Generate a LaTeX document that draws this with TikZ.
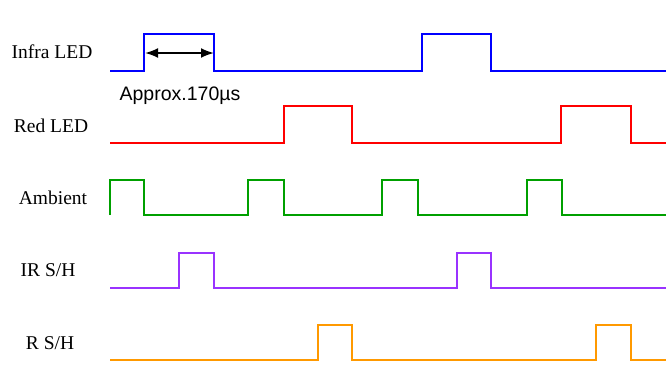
\documentclass[tikz,border=0pt]{standalone}
\usepackage{fontspec}
\setmainfont{Liberation Serif}
\newfontfamily\approxfont{Liberation Sans}
\usepackage{tikz}
\usetikzlibrary{arrows,arrows.meta,positioning,calc}
\definecolor{irblue}{RGB}{0,0,255}
\definecolor{ledred}{RGB}{255,0,0}
\definecolor{ambgreen}{RGB}{0,160,0}
\definecolor{shpurple}{RGB}{153,51,255}
\definecolor{shorange}{RGB}{255,153,0}

\tikzset{
  wave/.style={line width=2.2pt},
  siglabel/.style={font=\fontsize{19.5}{19.5}\selectfont, anchor=center}
}

\begin{document}
\begin{tikzpicture}[x=1pt, y=-1pt]
  \useasboundingbox (0,0) rectangle (666,365);
  % signal names
  \node[siglabel] (infra) at (52,52) {Infra LED};
  \node[siglabel] (red) at (51,126) {Red LED};
  \node[siglabel] (amb) at (53,198) {Ambient};
  \node[siglabel] (irsh) at (48,270) {IR S/H};
  \node[siglabel] (rsh) at (50,343) {R S/H};
  % waveforms
  \draw[wave, irblue] (110,71) -- (144,71) -- (144,34) -- (214,34) -- (214,71) -- (422,71) -- (422,34) -- (491,34) -- (491,71) -- (666,71);
  \draw[wave, ledred] (110,143) -- (284,143) -- (284,106) -- (352,106) -- (352,143) -- (561,143) -- (561,106) -- (631,106) -- (631,143) -- (666,143);
  \draw[wave, ambgreen] (110,215) -- (110,180) -- (144,180) -- (144,215) -- (248,215) -- (248,180) -- (284,180) -- (284,215) -- (382,215) -- (382,180) -- (418,180) -- (418,215) -- (527,215) -- (527,180) -- (562,180) -- (562,215) -- (666,215);
  \draw[wave, shpurple] (110,288) -- (179,288) -- (179,253) -- (214,253) -- (214,288) -- (457,288) -- (457,253) -- (491,253) -- (491,288) -- (666,288);
  \draw[wave, shorange] (110,360) -- (318,360) -- (318,325) -- (352,325) -- (352,360) -- (596,360) -- (596,325) -- (631,325) -- (631,360) -- (666,360);
  % pulse width
  \coordinate (wstart) at (145,53);
  \coordinate (wend) at (214,53);
  \draw[line width=2pt, {Latex[length=13pt,width=10pt]}-{Latex[length=13pt,width=10pt]}] (wstart) -- (wend);
  \node[font=\approxfont\fontsize{19.5}{19.5}\selectfont] (width) at (180,96) {Approx.170µs};
\end{tikzpicture}
\end{document}
